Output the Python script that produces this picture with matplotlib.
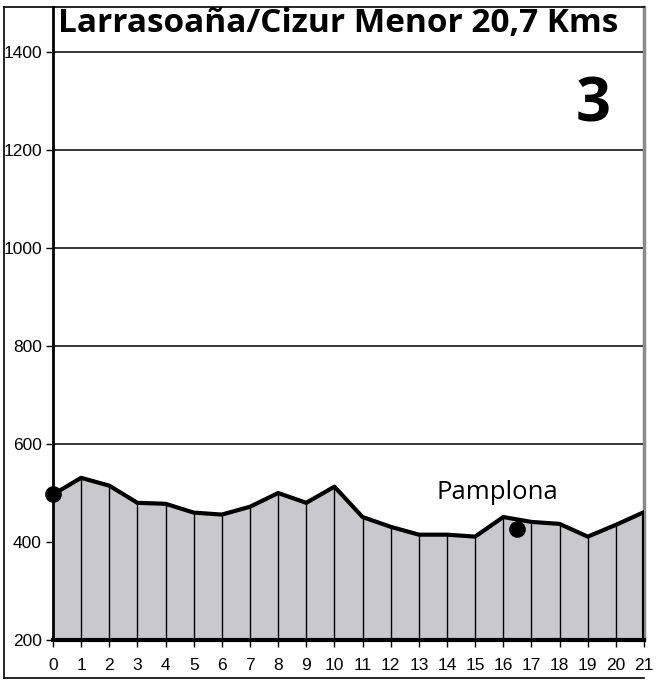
import matplotlib
matplotlib.use('Agg')
import matplotlib.pyplot as plt
from matplotlib.lines import Line2D

# elevation profile, metres, one value per km
km = list(range(0, 22))
elev = [497, 531, 515, 480, 478, 460, 456, 472, 500, 480, 513,
        451, 431, 415, 415, 411, 451, 441, 437, 411, 435, 461]
yticks = [200, 400, 600, 800, 1000, 1200, 1400]
town_name = 'Pamplona'
town_km = 16.5
town_elev = 427
title = 'Larrasoaña/Cizur Menor 20,7 Kms'
stage = '3'

fig = plt.figure(figsize=(6.57, 6.85), dpi=100)
ax = fig.add_axes([53 / 657, 1 - 640 / 685, 591 / 657, 633 / 685])

ax.fill_between(km, 200, elev, color='#c9c9cd', zorder=1)
ax.vlines(km[1:-1], 200, elev[1:-1], color='black', lw=1, zorder=2)
ax.plot(km, elev, color='black', lw=3, solid_joinstyle='round', zorder=4)
ax.vlines([km[-1]], 200, elev[-1], color='black', lw=3, zorder=4)

# horizontal grid
for y in yticks[1:]:
    ax.axhline(y, color='black', lw=1.1, zorder=0)

ax.plot([km[0]], [elev[0]], 'o', color='black', ms=11, zorder=5, clip_on=False)
ax.plot([town_km], [town_elev], 'o', color='black', ms=11, zorder=5)
ax.text(15.8, 502, town_name, fontsize=18.5, family='Open Sans',
        ha='center', va='center', zorder=6)

ax.set_xlim(0, 21)
ax.set_ylim(200, 1492)
ax.set_xticks(km)
ax.set_yticks(yticks)
ax.tick_params(axis='both', labelsize=12.5, length=5, width=1, colors='black')
ax.tick_params(axis='x', pad=8)
ax.tick_params(axis='y', pad=3)
for lab in ax.get_xticklabels() + ax.get_yticklabels():
    lab.set_family('Liberation Sans')

ax.spines['top'].set_visible(False)
ax.spines['left'].set_linewidth(2)
ax.spines['bottom'].set_linewidth(3)
ax.spines['right'].set_color('#8a8a8a')
ax.spines['right'].set_linewidth(2.5)

# outer frame: left, top, bottom
L, R, T, B = 4 / 657, 644 / 657, 1 - 7 / 685, 1 - 678 / 685
for xs, ys in [([L, L], [B, T]), ([L, R], [T, T]), ([L, R], [B, B])]:
    fig.add_artist(Line2D(xs, ys, transform=fig.transFigure, color='black', lw=1.2))

fig.text(338 / 657, 1 - 23 / 685, title, fontsize=24, fontweight='bold',
         family='Open Sans', ha='center', va='center')
fig.text(593 / 657, 1 - 106 / 685, stage, fontsize=44, fontweight='bold',
         family='Open Sans', ha='center', va='center')

fig.savefig('out.png', dpi=100)
